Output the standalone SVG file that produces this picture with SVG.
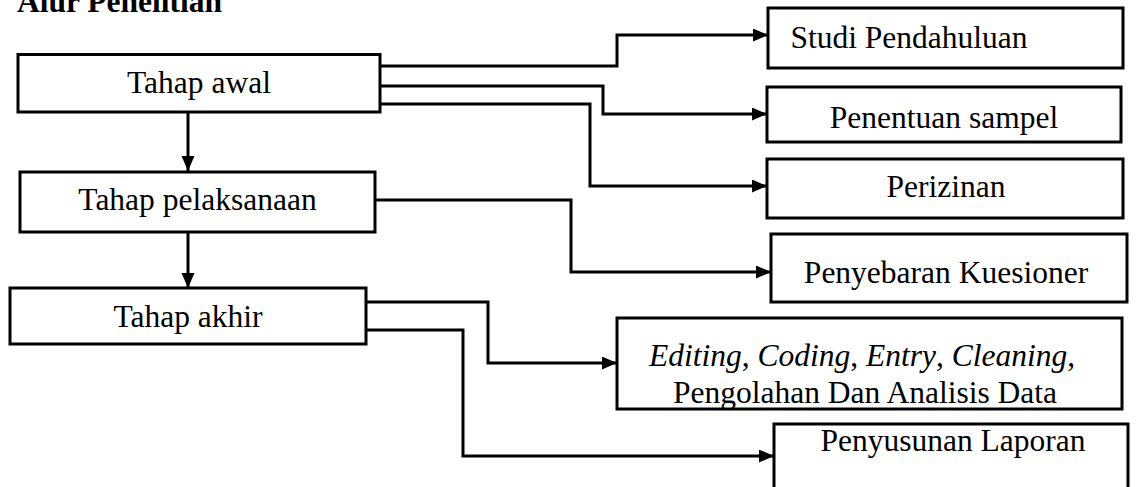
<svg xmlns="http://www.w3.org/2000/svg" width="1136" height="487" viewBox="0 0 1136 487">
<style>
.box{fill:#fff;stroke:#000;stroke-width:3}
.t{font-family:"Liberation Serif","Times New Roman",serif;font-size:31.5px;fill:#000;text-anchor:middle}
.c{fill:none;stroke:#000;stroke-width:3}
</style>
<defs>
<marker id="ah" markerUnits="userSpaceOnUse" markerWidth="16" markerHeight="14" refX="15" refY="6.5" orient="auto">
<path d="M0,0 L15,6.5 L0,13 Z" fill="#000"/>
</marker>
</defs>
<rect width="1136" height="487" fill="#fff"/>
<text id="title" x="17" y="12" style="font-family:'Liberation Serif','Times New Roman',serif;font-size:31.5px;font-weight:bold">Alur Penelitian</text>
<g id="connectors">
<path class="c" d="M380,66 H617 V35 H768" marker-end="url(#ah)"/>
<path class="c" d="M380,86 H603 V114 H767" marker-end="url(#ah)"/>
<path class="c" d="M380,104 H590 V186 H767" marker-end="url(#ah)"/>
<path class="c" d="M375,200 H571 V272 H771" marker-end="url(#ah)"/>
<path class="c" d="M366,302 H488 V363 H617" marker-end="url(#ah)"/>
<path class="c" d="M366,330 H463 V456 H774" marker-end="url(#ah)"/>
<path class="c" d="M188,113 V171" marker-end="url(#ah)"/>
<path class="c" d="M188,232 V288" marker-end="url(#ah)"/>
</g>
<g id="tahap-awal"><rect class="box" x="18" y="54.5" width="362" height="57.5"/><text class="t" x="199" y="93">Tahap awal</text></g>
<g id="tahap-pelaksanaan"><rect class="box" x="20" y="172" width="355" height="60"/><text class="t" x="197.5" y="210">Tahap pelaksanaan</text></g>
<g id="tahap-akhir"><rect class="box" x="10" y="288" width="356" height="56"/><text class="t" x="188" y="327">Tahap akhir</text></g>
<g id="studi"><rect class="box" x="768" y="8" width="355" height="60"/><text class="t" x="909" y="48" style="text-anchor:middle">Studi Pendahuluan</text></g>
<g id="penentuan"><rect class="box" x="767" y="87" width="354" height="55"/><text class="t" x="944" y="128">Penentuan sampel</text></g>
<g id="perizinan"><rect class="box" x="767" y="159" width="356" height="59"/><text class="t" x="946" y="197">Perizinan</text></g>
<g id="penyebaran"><rect class="box" x="771" y="234" width="356" height="68"/><text class="t" x="946" y="283">Penyebaran Kuesioner</text></g>
<g id="pengolahan"><rect class="box" x="617" y="318" width="505" height="91"/>
<text class="t" x="862" y="366"><tspan font-style="italic">Editing</tspan>, <tspan font-style="italic">Coding</tspan>, <tspan font-style="italic">Entry</tspan>, <tspan font-style="italic">Cleaning</tspan>,</text>
<text class="t" x="865" y="403">Pengolahan Dan Analisis Data</text></g>
<g id="penyusunan"><rect class="box" x="774" y="424" width="354" height="70"/><text class="t" x="953" y="451">Penyusunan Laporan</text></g>
</svg>
